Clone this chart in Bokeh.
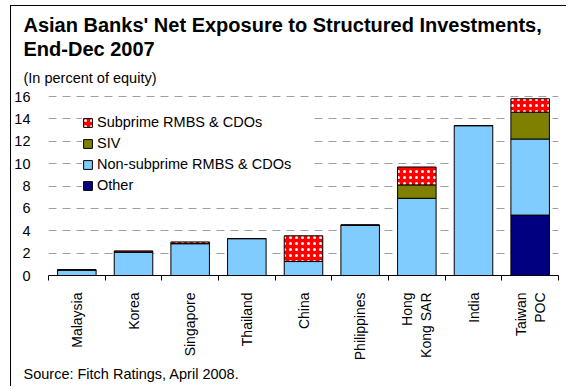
from math import pi
from bokeh.plotting import figure
from bokeh.models import (Range1d, FixedTicker, Legend, LegendItem, Title,
                          ColumnDataSource, InlineStyleSheet)
from bokeh.embed import file_html
from bokeh.resources import INLINE

# ---- data (percent of equity) ----
countries = ["Malaysia", "Korea", "Singapore", "Thailand", "China",
             "Philippines", "Hong\nKong SAR", "India", "Taiwan\nPOC"]
other = [0, 0, 0, 0, 0, 0, 0, 0, 5.4]
non_subprime = [0.5, 2.1, 2.85, 3.3, 1.25, 4.5, 6.9, 13.4, 6.8]
siv = [0, 0, 0, 0, 0, 0, 1.2, 0, 2.4]
subprime = [0, 0.1, 0.15, 0, 2.3, 0, 1.6, 0, 1.2]
y_ticks = [0, 2, 4, 6, 8, 10, 12, 14, 16]

series_keys = ["other", "non_subprime", "siv", "subprime"]
series_labels = ["Other", "Non-subprime RMBS & CDOs", "SIV", "Subprime RMBS & CDOs"]
series_colors = ["#000080", "#80CBFF", "#808000", "#FF0000"]

title_text = "Asian Banks' Net Exposure to Structured Investments,\nEnd-Dec 2007"
subtitle_text = "(In percent of equity)"
source_text = "Source: Fitch Ratings, April 2008."

FONT = "Liberation Sans"

centers = [i + 0.5 for i in range(len(countries))]
boundaries = [float(i) for i in range(len(countries) + 1)]

source = ColumnDataSource(dict(x=centers, other=other, non_subprime=non_subprime,
                               siv=siv, subprime=subprime))

p = figure(width=556, height=381, output_backend="svg", toolbar_location=None,
           x_range=Range1d(0, len(countries)), y_range=Range1d(0, 16.27),
           min_border_left=34, min_border_right=9, min_border_top=87, min_border_bottom=112)
p.stylesheets = [InlineStyleSheet(css=":host { margin-left: 10px; margin-top: 5px; "
                                      "border-left: 1px solid black; border-top: 1px solid black; }")]
p.outline_line_color = None
p.background_fill_color = "white"
p.border_fill_color = "white"

renderers = p.vbar_stack(series_keys, x="x", width=0.68, source=source,
                         fill_color=series_colors, line_color="black", line_width=1)
sub_r = renderers[3]
sub_r.glyph.hatch_pattern = "dot"
sub_r.glyph.hatch_color = "white"
sub_r.glyph.hatch_scale = 6

# axes
p.xaxis.ticker = FixedTicker(ticks=centers, minor_ticks=boundaries)
p.xaxis.major_label_overrides = {c: name for c, name in zip(centers, countries)}
p.xaxis.major_label_orientation = pi / 2
p.xaxis.major_label_text_align = "right"
p.xaxis.major_tick_out = 0
p.xaxis.major_tick_in = 0
p.xaxis.minor_tick_out = 5
p.xaxis.minor_tick_in = 0
p.xaxis.minor_tick_line_color = "black"
p.xaxis.axis_line_color = "black"
p.xaxis.major_label_standoff = 12
p.xaxis.major_label_text_font = FONT
p.xaxis.major_label_text_font_size = "14px"
p.xaxis.major_label_text_color = "black"

p.yaxis.ticker = FixedTicker(ticks=y_ticks)
p.yaxis.axis_line_color = None
p.yaxis.major_tick_line_color = None
p.yaxis.minor_tick_line_color = None
p.yaxis.major_label_standoff = 12
p.yaxis.major_label_text_font = FONT
p.yaxis.major_label_text_font_size = "14.5px"
p.yaxis.major_label_text_color = "black"

p.xgrid.grid_line_color = None
p.ygrid.grid_line_color = "#A0A0A0"
p.ygrid.grid_line_dash = "8 6"
p.ygrid.grid_line_width = 1

# legend (reverse order of stacking)
items = [LegendItem(label=lab, renderers=[r]) for lab, r in zip(series_labels, renderers)][::-1]
legend = Legend(items=items, location=(34, 80), padding=8, margin=0, spacing=1,
                glyph_width=11, glyph_height=11, label_height=20, label_standoff=4,
                label_width=215, border_line_color=None, background_fill_color="white",
                background_fill_alpha=1.0, label_text_font=FONT,
                label_text_font_size="14.5px", label_text_color="black")
p.add_layout(legend)

# texts (titles stacked outward from the frame)
p.add_layout(Title(text=subtitle_text, align="left", offset=-25, standoff=15,
                   text_font=FONT, text_font_size="14.5px", text_font_style="normal",
                   text_color="black"), "above")
p.add_layout(Title(text=title_text, align="left", offset=-25, standoff=0,
                   text_font=FONT, text_font_size="20px", text_font_style="bold",
                   text_color="black", text_line_height=1.1), "above")
p.add_layout(Title(text=source_text, align="left", offset=-25, standoff=0,
                   text_font=FONT, text_font_size="14.5px", text_font_style="normal",
                   text_color="black"), "below")

open("out.html", "w").write(file_html(p, INLINE))
